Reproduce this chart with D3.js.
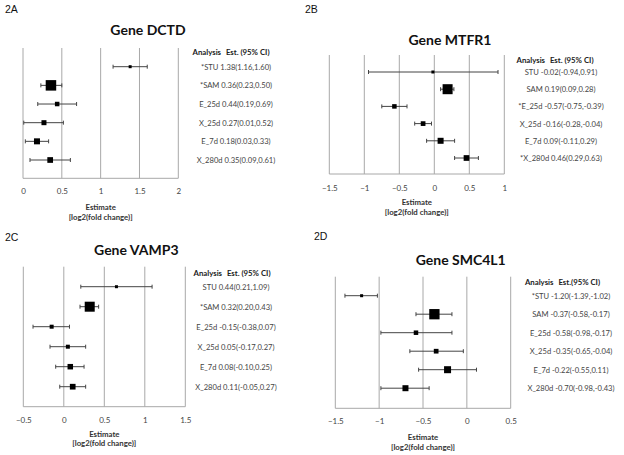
<!DOCTYPE html>
<html><head><meta charset="utf-8">
<script src="https://cdn.jsdelivr.net/npm/d3@7"></script>
<style>
body{margin:0;background:#fff;}
svg{display:block;}
text{font-family:Lato,"Open Sans",sans-serif;fill:#333;}
</style></head>
<body>
<svg id="c" width="624" height="455"></svg>
<script>
// ---------- DATA ----------
const analyses = ["STU","SAM","E_25d","X_25d","E_7d","X_280d"];

const titleA = "Gene DCTD";
const estA = [1.38, 0.36, 0.44, 0.27, 0.18, 0.35];
const loA  = [1.16, 0.23, 0.19, 0.01, 0.03, 0.09];
const hiA  = [1.60, 0.50, 0.69, 0.52, 0.33, 0.61];
const wA   = [3, 10.5, 4.5, 5, 6, 5.7];
const labA = ["*STU 1.38(1.16,1.60)","*SAM 0.36(0.23,0.50)","E_25d 0.44(0.19,0.69)","X_25d 0.27(0.01,0.52)","E_7d 0.18(0.03,0.33)","X_280d 0.35(0.09,0.61)"];
const ticksA = [0, 0.5, 1, 1.5, 2];

const titleB = "Gene MTFR1";
const estB = [-0.02, 0.19, -0.57, -0.16, 0.09, 0.46];
const loB  = [-0.94, 0.09, -0.75, -0.28, -0.11, 0.29];
const hiB  = [0.91, 0.28, -0.39, -0.04, 0.29, 0.63];
const wB   = [3, 10, 4.5, 4.7, 6, 5.7];
const labB = ["STU -0.02(-0.94,0.91)","SAM 0.19(0.09,0.28)","*E_25d -0.57(-0.75,-0.39)","X_25d -0.16(-0.28,-0.04)","E_7d 0.09(-0.11,0.29)","*X_280d 0.46(0.29,0.63)"];
const ticksB = [-1.5, -1, -0.5, 0, 0.5, 1];

const titleC = "Gene VAMP3";
const estC = [0.65, 0.32, -0.15, 0.05, 0.08, 0.11];   // STU marker is drawn at 0.65 in the figure
const loC  = [0.21, 0.20, -0.38, -0.17, -0.10, -0.05];
const hiC  = [1.09, 0.43, 0.07, 0.27, 0.25, 0.27];
const wC   = [3, 10, 4, 4, 5.5, 5.7];
const labC = ["STU 0.44(0.21,1.09)","*SAM 0.32(0.20,0.43)","E_25d -0.15(-0.38,0.07)","X_25d 0.05(-0.17,0.27)","E_7d 0.08(-0.10,0.25)","X_280d 0.11(-0.05,0.27)"];
const ticksC = [-0.5, 0, 0.5, 1, 1.5];

const titleD = "Gene SMC4L1";
const estD = [-1.20, -0.37, -0.58, -0.35, -0.22, -0.70];
const loD  = [-1.39, -0.58, -0.98, -0.65, -0.55, -0.98];
const hiD  = [-1.02, -0.17, -0.17, -0.04, 0.11, -0.43];
const wD   = [3, 10.3, 4.5, 4.7, 7, 6];
const labD = ["*STU -1.20(-1.39,-1.02)","SAM -0.37(-0.58,-0.17)","E_25d -0.58(-0.98,-0.17)","X_25d -0.35(-0.65,-0.04)","E_7d -0.22(-0.55,0.11)","X_280d -0.70(-0.98,-0.43)"];
const ticksD = [-1.5, -1, -0.5, 0, 0.5];

const panelTags = ["2A","2B","2C","2D"];
const headerAB_C = "Est. (95% CI)";
const headerD = "Est.(95% CI)";

// ---------- LAYOUT ----------
const panels = [
  {tag:panelTags[0], tagX:5, tagY:9, title:titleA, est:estA, lo:loA, hi:hiA, w:wA, lab:labA, ticks:ticksA,
   x0:23, x1:178.3, top:48, bottom:178.3, row0:66.7, rowStep:18.66, titleX:148, titleY:29,
   tickY:191, estY:207, logY:217, headX:231, headY:52, labX:236, head:headerAB_C},
  {tag:panelTags[1], tagX:305, tagY:9, title:titleB, est:estB, lo:loB, hi:hiB, w:wB, lab:labB, ticks:ticksB,
   x0:329.3, x1:504.3, top:55, bottom:174, row0:72, rowStep:17.2, titleX:450, titleY:39,
   tickY:187.7, estY:202, logY:211.7, headX:555, headY:60, labX:561, head:headerAB_C},
  {tag:panelTags[2], tagX:5, tagY:236.5, title:titleC, est:estC, lo:loC, hi:hiC, w:wC, lab:labC, ticks:ticksC,
   x0:23.3, x1:185.3, top:266.7, bottom:406.7, row0:286.7, rowStep:20, titleX:136.3, titleY:249.3,
   tickY:420, estY:434.3, logY:443.3, headX:232, headY:273.3, labX:236, head:headerAB_C},
  {tag:panelTags[3], tagX:314, tagY:236, title:titleD, est:estD, lo:loD, hi:hiD, w:wD, lab:labD, ticks:ticksD,
   x0:335.3, x1:510.7, top:276.7, bottom:408.3, row0:295.7, rowStep:18.5, titleX:460.7, titleY:259.3,
   tickY:420.7, estY:436.7, logY:447.3, headX:562.5, headY:281.7, labX:571, head:headerD}
];

const svg = d3.select("#c");

panels.forEach(p => {
  const g = svg.append("g");
  const x = d3.scaleLinear().domain(d3.extent(p.ticks)).range([p.x0, p.x1]);
  const y = d3.scalePoint().domain(analyses)
      .range([p.row0, p.row0 + p.rowStep*(analyses.length-1)]);

  // panel tag
  g.append("text").attr("x", p.tagX).attr("y", p.tagY).attr("dominant-baseline","central")
    .style("font-family","'Liberation Sans',Arial,sans-serif").style("font-size","10.5px").style("fill","#111")
    .text(p.tag);

  // title
  g.append("text").attr("x", p.titleX).attr("y", p.titleY).attr("text-anchor","middle")
    .attr("dominant-baseline","central").style("font-size","14px").style("font-weight","bold").style("fill","#111")
    .text(p.title);

  // grid lines
  g.selectAll("line.grid").data(p.ticks).join("line").attr("class","grid")
    .attr("x1", d => x(d)).attr("x2", d => x(d)).attr("y1", p.top).attr("y2", p.bottom)
    .attr("stroke","#a8a8a8").attr("stroke-width",1);
  g.append("line").attr("x1", p.x0).attr("x2", p.x1).attr("y1", p.bottom).attr("y2", p.bottom)
    .attr("stroke","#a8a8a8").attr("stroke-width",1);

  // axis with tick labels
  const axis = d3.axisBottom(x).tickValues(p.ticks).tickSize(0).tickPadding(0).tickFormat(d3.format(""));
  const ax = g.append("g").attr("transform", `translate(0,${p.tickY})`).call(axis);
  ax.select(".domain").remove();
  ax.selectAll("text").attr("y",0).attr("dy",null).attr("dominant-baseline","central")
    .style("font-family","Lato,sans-serif").style("font-size","8px").style("fill","#444");

  // axis title
  const cx = (p.x0 + p.x1)/2;
  g.append("text").attr("x", cx).attr("y", p.estY).attr("text-anchor","middle").attr("dominant-baseline","central")
    .style("font-size","7.8px").style("font-weight","bold").text("Estimate");
  g.append("text").attr("x", cx).attr("y", p.logY).attr("text-anchor","middle").attr("dominant-baseline","central")
    .style("font-size","7.8px").style("font-weight","bold").text("[log2(fold change)]");

  // error bars
  const idx = d3.range(analyses.length);
  g.selectAll("line.ci").data(idx).join("line").attr("class","ci")
    .attr("x1", i => x(p.lo[i])).attr("x2", i => x(p.hi[i]))
    .attr("y1", i => y(analyses[i])).attr("y2", i => y(analyses[i]))
    .attr("stroke","#444").attr("stroke-width",1);
  ["lo","hi"].forEach(k => {
    g.selectAll("line.cap"+k).data(idx).join("line").attr("class","cap"+k)
      .attr("x1", i => x(p[k][i])).attr("x2", i => x(p[k][i]))
      .attr("y1", i => y(analyses[i]) - 2).attr("y2", i => y(analyses[i]) + 2)
      .attr("stroke","#444").attr("stroke-width",1);
  });
  // squares
  g.selectAll("rect.pt").data(idx).join("rect").attr("class","pt")
    .attr("x", i => x(p.est[i]) - p.w[i]/2).attr("y", i => y(analyses[i]) - p.w[i]/2)
    .attr("width", i => p.w[i]).attr("height", i => p.w[i]).attr("fill","#000");

  // legend header
  const h = g.append("text").attr("x", p.headX).attr("y", p.headY).attr("text-anchor","middle")
    .attr("dominant-baseline","central").style("font-size","7.8px").style("font-weight","bold").style("fill","#222");
  h.append("tspan").text("Analysis");
  h.append("tspan").attr("dx", 5).text(p.head);

  // legend rows
  g.selectAll("text.lab").data(idx).join("text").attr("class","lab")
    .attr("x", p.labX).attr("y", i => y(analyses[i])).attr("text-anchor","middle").attr("dominant-baseline","central")
    .style("font-size","7.6px").style("fill","#444")
    .text(i => p.lab[i]);
});
</script>
</body></html>
